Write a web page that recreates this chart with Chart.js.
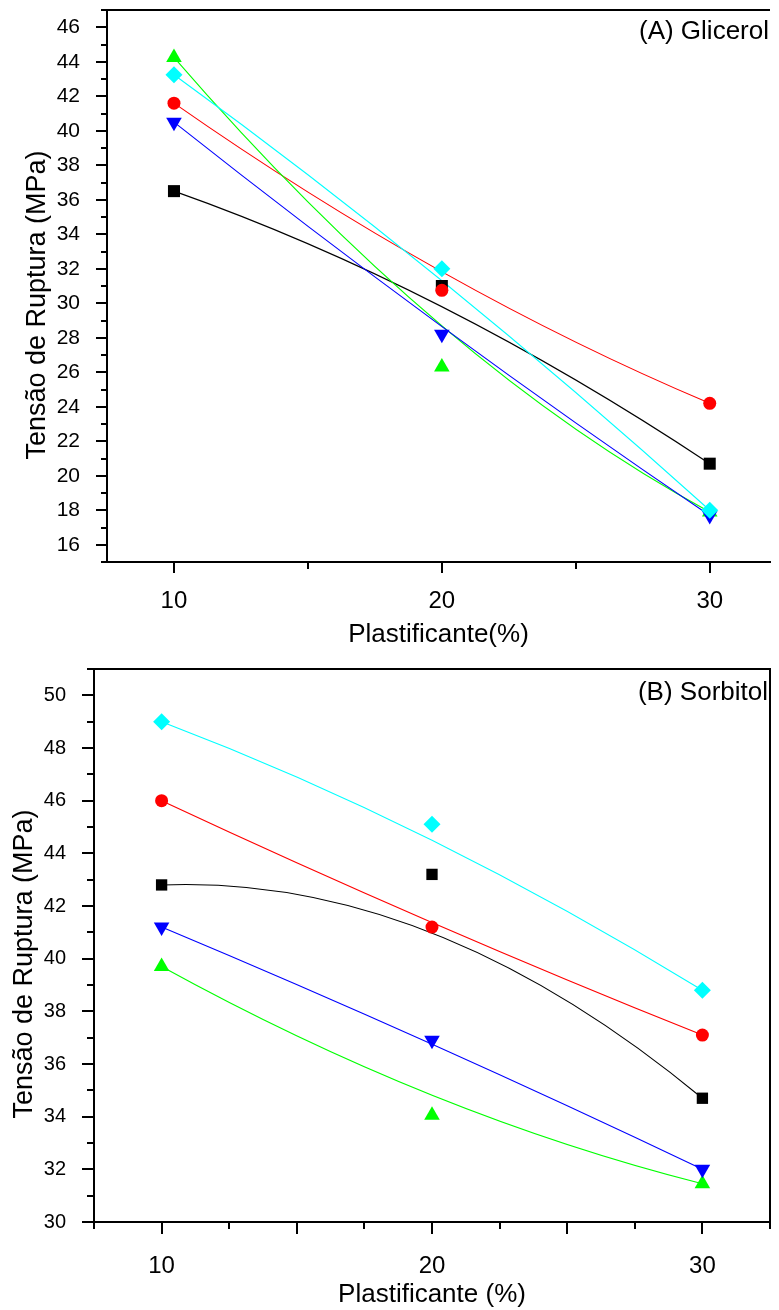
<!DOCTYPE html>
<html>
<head>
<meta charset="utf-8">
<script src="https://cdn.jsdelivr.net/npm/chart.js@4.4.1/dist/chart.umd.min.js"></script>
<style>
  html, body { margin: 0; padding: 0; background: #fff; }
  .wrap { position: absolute; left: 0; width: 779px; }
  canvas { display: block; }
</style>
</head>
<body>
<div class="wrap" style="top:0;height:650px"><canvas id="chartA" width="779" height="650"></canvas></div>
<div class="wrap" style="top:640px;height:670px"><canvas id="chartB" width="779" height="670"></canvas></div>
<script>
// ---------- data ----------
const plastificante = [10, 20, 30];
const xTickLabels = [10, 20, 30];

// (A) Glicerol
const glicerolQuadrado   = [36.5, 31.0, 20.7];
const glicerolCirculo    = [41.6, 30.75, 24.2];
const glicerolTriangulo  = [44.25, 26.3, 17.9];
const glicerolTrianguloInv = [40.5, 28.2, 17.7];
const glicerolLosango    = [43.25, 32.0, 18.0];
const yTicksA = [16, 18, 20, 22, 24, 26, 28, 30, 32, 34, 36, 38, 40, 42, 44, 46];

// (B) Sorbitol
const sorbitolQuadrado   = [42.8, 43.2, 34.7];
const sorbitolCirculo    = [46.0, 41.2, 37.1];
const sorbitolTriangulo  = [39.7, 34.05, 31.45];
const sorbitolTrianguloInv = [41.2, 36.9, 32.0];
const sorbitolLosango    = [49.0, 45.1, 38.8];
const yTicksB = [30, 32, 34, 36, 38, 40, 42, 44, 46, 48, 50];

const yTitle = 'Tensão de Ruptura (MPa)';
const FONT = "'Liberation Sans', Arial, Helvetica, sans-serif";

function series(values, style, color, r, rot, order) {
  return {
    data: plastificante.map((x, i) => ({ x: x, y: values[i] })),
    pointStyle: style,
    rotation: rot,
    pointRadius: r,
    backgroundColor: color,
    borderColor: color,
    pointBorderWidth: 0,
    showLine: false,
    order: order
  };
}

function decorPlugin(cfg) {
  return {
    id: 'decor_' + cfg.id,
    beforeDatasetsDraw(chart) {
      const ctx = chart.ctx;
      ctx.save();
      // B-spline style curves through the library-computed point positions
      chart.data.datasets.forEach((ds, i) => {
        const p = chart.getDatasetMeta(i).data;
        ctx.beginPath();
        ctx.strokeStyle = ds.borderColor;
        ctx.lineWidth = 1.1;
        ctx.moveTo(p[0].x, p[0].y);
        ctx.quadraticCurveTo(p[1].x, p[1].y, p[2].x, p[2].y);
        ctx.stroke();
      });
      ctx.restore();
    },
    afterDraw(chart) {
      const ctx = chart.ctx;
      const xs = chart.scales.x, ys = chart.scales.y;
      const { left, right, top, bottom } = chart.chartArea;
      ctx.save();
      ctx.strokeStyle = '#000';
      ctx.lineWidth = 2;
      ctx.beginPath();
      ctx.moveTo(left, top); ctx.lineTo(right + (cfg.rightBorder ? 1 : 0), top);
      ctx.moveTo(left, top - 1); ctx.lineTo(left, bottom + 1);
      ctx.moveTo(left - 1, bottom); ctx.lineTo(right + 1, bottom);
      if (cfg.rightBorder) { ctx.moveTo(right, top - 1); ctx.lineTo(right, bottom + 1); }
      ctx.stroke();
      // y tick marks
      ctx.beginPath();
      for (let v = ys.min; v <= ys.max + 1e-9; v += 1) {
        const py = Math.round(ys.getPixelForValue(v));
        const len = (Math.round(v) % 2 === 0) ? cfg.yMajor : cfg.yMinor;
        ctx.moveTo(left - len, py); ctx.lineTo(left, py);
      }
      // x tick marks
      for (let v = cfg.xMinorStart; v <= xs.max + 1e-9; v += cfg.xStep) {
        const px = Math.round(xs.getPixelForValue(v));
        const isMajor = cfg.xMajors.some(m => Math.abs(m - v) < 1e-6);
        const len = isMajor ? cfg.xMajor : cfg.xMinor;
        ctx.moveTo(px, bottom); ctx.lineTo(px, bottom + len);
      }
      ctx.stroke();
      ctx.fillStyle = '#000';
      // y axis title
      ctx.save();
      ctx.font = '27px ' + FONT;
      ctx.translate(cfg.yTitleX, cfg.yTitleY);
      ctx.rotate(-Math.PI / 2);
      ctx.textAlign = 'center';
      ctx.textBaseline = 'alphabetic';
      ctx.fillText(yTitle, 0, 0);
      ctx.restore();
      // panel label
      ctx.font = cfg.labelSize + 'px ' + FONT;
      ctx.textAlign = 'right';
      ctx.textBaseline = 'middle';
      ctx.fillText(cfg.label, cfg.labelX, cfg.labelY);
      ctx.restore();
    }
  };
}

function makeChart(id, o) {
  const zeroPad = s => { s.paddingTop = 0; s.paddingBottom = 0; s.paddingLeft = 0; s.paddingRight = 0; };
  return new Chart(document.getElementById(id), {
    type: 'scatter',
    data: { datasets: o.datasets },
    options: {
      responsive: false,
      animation: false,
      events: [],
      layout: { padding: { top: o.padTop, right: o.padRight, left: 0, bottom: 0 } },
      plugins: { legend: { display: false }, tooltip: { enabled: false } },
      scales: {
        x: {
          type: 'linear', min: o.xMin, max: o.xMax,
          afterBuildTicks: s => { s.ticks = xTickLabels.map(v => ({ value: v })); },
          afterFit: s => { s.height = o.xHeight; zeroPad(s); },
          grid: { display: false }, border: { display: false },
          ticks: { autoSkip: false, maxRotation: 0, padding: o.xTickPad, color: '#000',
                   font: { size: 24, family: FONT } },
          title: { display: true, text: o.xTitle, color: '#000',
                   font: { size: 26, family: FONT }, padding: { top: 0, bottom: 0 } }
        },
        y: {
          type: 'linear', min: o.yMin, max: o.yMax,
          afterBuildTicks: s => { s.ticks = o.yTicks.map(v => ({ value: v })); },
          afterFit: s => { s.width = o.yWidth; zeroPad(s); },
          grid: { display: false }, border: { display: false },
          ticks: { autoSkip: false, padding: o.yTickPad, color: '#000',
                   font: { size: o.yTickSize, family: FONT } },
          title: { display: false }
        }
      }
    },
    plugins: [decorPlugin(o.decor)]
  });
}

const RED = '#ff0000', BLACK = '#000000', GREEN = '#00ff00', BLUE = '#0000ff', CYAN = '#00ffff';

makeChart('chartA', {
  datasets: [
    series(glicerolQuadrado, 'rect', BLACK, 8.5, 0, 4),
    series(glicerolCirculo, 'circle', RED, 6.5, 0, 3),
    series(glicerolTriangulo, 'triangle', GREEN, 9, 0, 2),
    series(glicerolTrianguloInv, 'triangle', BLUE, 9, 180, 1),
    series(glicerolLosango, 'rectRot', CYAN, 8.5, 0, 0)
  ],
  padTop: 10, padRight: 0,
  xMin: 7.5, xMax: 32.25, xHeight: 88, xTickPad: 17, xTitle: 'Plastificante(%)',
  yMin: 15, yMax: 47, yTicks: yTicksA, yWidth: 107, yTickPad: 19, yTickSize: 21,
  decor: { id: 'A', rightBorder: false, yMajor: 11, yMinor: 6, xMinorStart: 10, xStep: 5,
           xMajors: [10, 20, 30], xMajor: 11, xMinor: 7,
           yTitleX: 45, yTitleY: 305,
           label: '(A) Glicerol', labelX: 769, labelY: 32, labelSize: 26 }
});

makeChart('chartB', {
  datasets: [
    series(sorbitolQuadrado, 'rect', BLACK, 8, 0, 4),
    series(sorbitolCirculo, 'circle', RED, 6.5, 0, 3),
    series(sorbitolTriangulo, 'triangle', GREEN, 9, 0, 2),
    series(sorbitolTrianguloInv, 'triangle', BLUE, 9, 180, 1),
    series(sorbitolLosango, 'rectRot', CYAN, 8.5, 0, 0)
  ],
  padTop: 29, padRight: 6,
  xMin: 7.5, xMax: 32.5, xHeight: 88, xTickPad: 22, xTitle: 'Plastificante (%)',
  yMin: 30, yMax: 51, yTicks: yTicksB, yWidth: 94, yTickPad: 20, yTickSize: 20,
  decor: { id: 'B', rightBorder: true, yMajor: 12, yMinor: 7, xMinorStart: 7.5, xStep: 2.5,
           xMajors: [10, 15, 20, 25, 30], xMajor: 12, xMinor: 7,
           yTitleX: 32, yTitleY: 324,
           label: '(B) Sorbitol', labelX: 768, labelY: 53, labelSize: 26 }
});
</script>
</body>
</html>
